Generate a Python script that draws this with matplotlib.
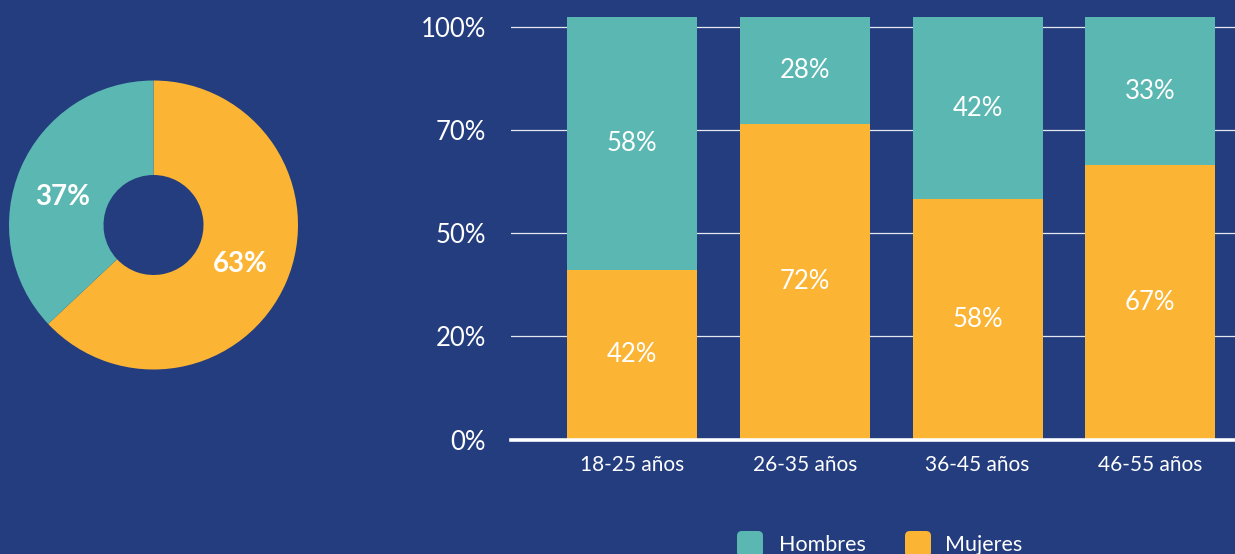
import matplotlib
matplotlib.use("Agg")
import matplotlib.pyplot as plt
from matplotlib.patches import FancyBboxPatch

plt.rcParams['font.family'] = ['Lato', 'DejaVu Sans']

# ---- data ----
pie_labels = ['Mujeres', 'Hombres']
pie_values = [63, 37]

categories = ['18-25 años', '26-35 años', '36-45 años', '46-55 años']
mujeres_h = [41.0, 76.5, 58.2, 66.5]      # bar heights
hombres_h = [61.4, 25.9, 44.2, 35.9]
mujeres_lbl = ['42%', '72%', '58%', '67%']
hombres_lbl = ['58%', '28%', '42%', '33%']
ytick_vals = [0, 25, 50, 75, 100]
ytick_lbls = ['0%', '20%', '50%', '70%', '100%']

BG = '#233d7f'
TEAL = '#5bb7b2'
ORANGE = '#fbb433'
W, H = 1235, 554

fig = plt.figure(figsize=(W / 100, H / 100), dpi=100, facecolor=BG)

# ---- donut ----
cx, cy, r = 153.5, 225, 144.5
axp = fig.add_axes([(cx - r) / W, (H - cy - r) / H, 2 * r / W, 2 * r / H])
axp.set_facecolor(BG)
wedges, _ = axp.pie(pie_values, colors=[ORANGE, TEAL], startangle=90,
                    counterclock=False, radius=1,
                    wedgeprops=dict(width=0.654, linewidth=0))
axp.set_xlim(-1, 1)
axp.set_ylim(-1, 1)
axp.set_aspect('equal')
axp.axis('off')
pie_txt_pos = [(0.60, -0.27), (-0.63, 0.196)]
for v, (tx, ty) in zip(pie_values, pie_txt_pos):
    axp.text(tx, ty, f'{v}%', color='white', fontsize=20, fontweight='bold',
             ha='center', va='center')

# ---- stacked bars ----
left, right, bottom, top = 511, 1235, 439.5, 17
ax = fig.add_axes([left / W, (H - bottom) / H, (right - left) / W, (bottom - top) / H])
ax.set_facecolor(BG)
x = list(range(len(categories)))
b1 = ax.bar(x, mujeres_h, width=0.752, color=ORANGE, zorder=2, linewidth=0)
b2 = ax.bar(x, hombres_h, width=0.752, bottom=mujeres_h, color=TEAL, zorder=2, linewidth=0)
ax.bar_label(b1, labels=mujeres_lbl, label_type='center', color='white', fontsize=18.5)
ax.bar_label(b2, labels=hombres_lbl, label_type='center', color='white', fontsize=18.5)

ax.set_xlim(-0.70, 3.49)
ax.set_ylim(0, 102.4)
ax.set_yticks(ytick_vals)
ax.set_yticklabels(ytick_lbls)
ax.set_xticks(x)
ax.set_xticklabels(categories)
ax.tick_params(axis='y', length=0, pad=18, labelsize=18.5, labelcolor='white')
ax.tick_params(axis='x', length=0, pad=11, labelsize=15, labelcolor='white')
for yv in ytick_vals[1:]:
    ax.axhline(yv, color='#e6e8f0', linewidth=0.9, zorder=1)
for s in ['top', 'right', 'left']:
    ax.spines[s].set_visible(False)
ax.spines['bottom'].set_color('white')
ax.spines['bottom'].set_linewidth(2.6)
ax.spines['bottom'].set_zorder(3)

# ---- legend (bottom, partly cut) ----
leg_items = [('Hombres', TEAL, 737, 779), ('Mujeres', ORANGE, 905, 945)]
for name, col, sx, tx in leg_items:
    sq = FancyBboxPatch((sx / W, (H - 557) / H), 26 / W, 26 / H,
                        boxstyle='round,pad=0,rounding_size=0.004',
                        transform=fig.transFigure, facecolor=col, edgecolor='none',
                        mutation_aspect=W / H)
    fig.patches.append(sq)
    fig.text(tx / W, (H - 545) / H, name, color='white', fontsize=15.5,
             ha='left', va='center')

fig.savefig('out.png', dpi=100, facecolor=BG)
